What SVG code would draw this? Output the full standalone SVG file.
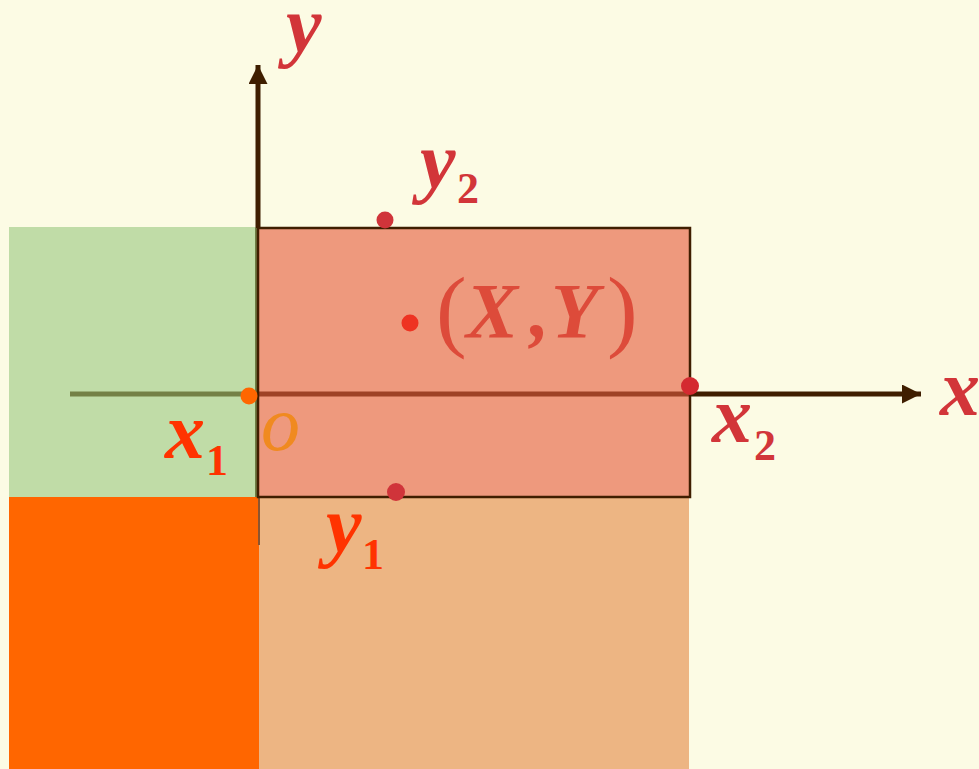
<svg xmlns="http://www.w3.org/2000/svg" width="979" height="769" viewBox="0 0 979 769">
<defs>
<style>
.lbl{font-family:'Liberation Serif','DejaVu Serif',serif;font-style:italic;font-weight:bold;font-size:80px}
.sub{font-family:'Liberation Serif','DejaVu Serif',serif;font-weight:bold;font-size:44px}
.red{fill:#D23539}
.org{fill:#FF3300}
</style>
<marker id="ah" viewBox="0 0 10 10" refX="10" refY="5" markerWidth="3.8" markerHeight="3.8" markerUnits="strokeWidth" orient="auto"><path d="M0,0 L10,5 L0,10 Z" fill="#3F1E00"/></marker>
</defs>
<rect x="0" y="0" width="979" height="769" fill="#FCFBE4"/>
<g id="regions">
<rect id="green" x="9" y="227" width="248" height="270" fill="#C0DCA7"/>
<rect id="orange" x="9" y="497" width="250" height="272" fill="#FF6600"/>
<rect id="tan" x="259" y="497" width="430" height="272" fill="#EDB583"/>
<rect id="salmon" x="258" y="228" width="432" height="269" fill="#EE997D"/>
</g>
<g id="connectors" fill="none">
<line x1="257" y1="228" x2="257" y2="497" stroke="#6F7D45" stroke-width="4"/>
<line x1="259" y1="497" x2="259" y2="545" stroke="#8B5530" stroke-width="2"/>
<line x1="258" y1="228" x2="258" y2="65" stroke="#3F1E00" stroke-width="5" marker-end="url(#ah)"/>
<line x1="70" y1="394" x2="252" y2="394" stroke="#748146" stroke-width="5"/>
<line x1="258" y1="394" x2="690" y2="394" stroke="#9E4226" stroke-width="5"/>
<line x1="690" y1="394" x2="921" y2="394" stroke="#3F1E00" stroke-width="5" marker-end="url(#ah)"/>
<rect x="258" y="228" width="432" height="269" fill="none" stroke="#3F1E00" stroke-width="2.5"/>
</g>
<g id="points">
<circle id="p-y2" cx="385" cy="220" r="8.5" fill="#D0343A"/>
<circle id="p-XY" cx="410" cy="323" r="8.5" fill="#EE3322"/>
<circle id="p-x1" cx="249" cy="396" r="8.5" fill="#FF6600"/>
<circle id="p-x2" cx="690" cy="386" r="9" fill="#D42A30"/>
<circle id="p-y1" cx="396" cy="492" r="9" fill="#D0343A"/>
</g>
<g id="labels">
<text class="lbl red" x="286" y="52" font-size="76">y</text>
<text class="lbl red" x="940" y="415">x</text>
<g id="lbl-y2"><text class="lbl red" x="420" y="188">y</text><text class="sub red" x="457" y="203">2</text></g>
<g id="lbl-x2"><text class="lbl red" x="712" y="442">x</text><text class="sub red" x="754" y="460">2</text></g>
<g id="lbl-x1"><text class="lbl org" x="165" y="458">x</text><text class="sub org" x="206" y="475">1</text></g>
<g id="lbl-y1"><text class="lbl org" x="326" y="552">y</text><text class="sub org" x="362" y="569">1</text></g>
<text x="261" y="450" font-family="'Liberation Serif','DejaVu Serif',serif" font-style="italic" font-size="78" fill="#F08A20">o</text>
<g id="lbl-XY" fill="#DD4B3A" font-family="'Liberation Serif','DejaVu Serif',serif">
<text x="436" y="340" font-size="92">(</text>
<text x="466" y="337" font-size="78" font-style="italic" font-weight="bold">X</text>
<text x="530" y="337" font-size="78" font-style="italic" font-weight="bold">,</text>
<text x="551" y="337" font-size="78" font-style="italic" font-weight="bold">Y</text>
<text x="607" y="340" font-size="92">)</text>
</g>
</g>
</svg>
